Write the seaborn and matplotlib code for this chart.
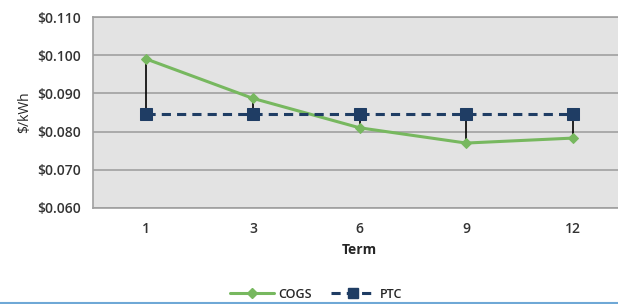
import matplotlib
matplotlib.use("Agg")
import matplotlib.pyplot as plt
import seaborn as sns
import pandas as pd
import numpy as np
from matplotlib.lines import Line2D

terms = ["1", "3", "6", "9", "12"]
cogs = [0.0990, 0.0887, 0.0810, 0.0770, 0.0783]
ptc = [0.0845, 0.0845, 0.0845, 0.0845, 0.0845]
yticks = [0.060, 0.070, 0.080, 0.090, 0.100, 0.110]

sns.set_style("white")
plt.rcParams['font.family'] = ['Open Sans', 'DejaVu Sans']

fig = plt.figure(figsize=(6.18, 3.04), dpi=100)
ax = fig.add_axes([93/618, 1-208/304, 533/618, 191/304])
ax.set_facecolor("#e3e3e3")

pos = np.arange(len(terms))
df = pd.DataFrame({"pos": pos, "COGS": cogs, "PTC": ptc})

green = "#77b85f"
navy = "#1f3d64"

ax.vlines(pos, ptc, cogs, color="black", lw=1.2, zorder=3)
sns.lineplot(data=df, x="pos", y="COGS", ax=ax, color=green, lw=2.2,
             marker="D", markersize=5.5, markeredgecolor=green, zorder=4)
sns.lineplot(data=df, x="pos", y="PTC", ax=ax, color=navy, lw=2.2,
             marker="s", markersize=9, markeredgecolor=navy, zorder=5,
             linestyle=(0, (3, 2)))

ax.set_xlim(-0.5, len(terms) - 0.5)
ax.set_ylim(0.060, 0.110)
ax.set_yticks(yticks)
ax.set_yticklabels([f"${v:.3f}" for v in yticks])
ax.set_xticks(pos)
ax.set_xticklabels(terms)
ax.yaxis.grid(True, color="#a0a0a0", lw=1.2)
ax.set_axisbelow(True)
for s in ax.spines.values():
    s.set_color("#a0a0a0")
    s.set_linewidth(1.2)
ax.tick_params(axis="both", length=0, labelsize=10, colors="#333333")
ax.tick_params(axis="x", pad=10)
ax.tick_params(axis="y", pad=9)
for lbl in ax.get_xticklabels() + ax.get_yticklabels():
    lbl.set_fontweight("semibold")
ax.set_xlabel("Term", fontsize=10, fontweight="bold", labelpad=5)
ax.set_ylabel("$/kWh", fontsize=10, labelpad=3)

handles = [
    Line2D([], [], color=green, lw=2.2, marker="D", markersize=5),
    Line2D([], [], color=navy, lw=2.2, marker="s", markersize=7, linestyle=(0, (3, 2))),
]
fig.legend(handles, ["COGS", "PTC"], loc="center", bbox_to_anchor=(316/618, 1-294/304),
           ncol=2, frameon=False, handlelength=3.5, columnspacing=1.5,
           handletextpad=0.4, prop={"weight": "semibold", "size": 9})

fig.add_artist(Line2D([0, 1], [0.003, 0.003], transform=fig.transFigure, color="#6fa8d6", lw=1.5))

fig.savefig("out.png", dpi=100)
